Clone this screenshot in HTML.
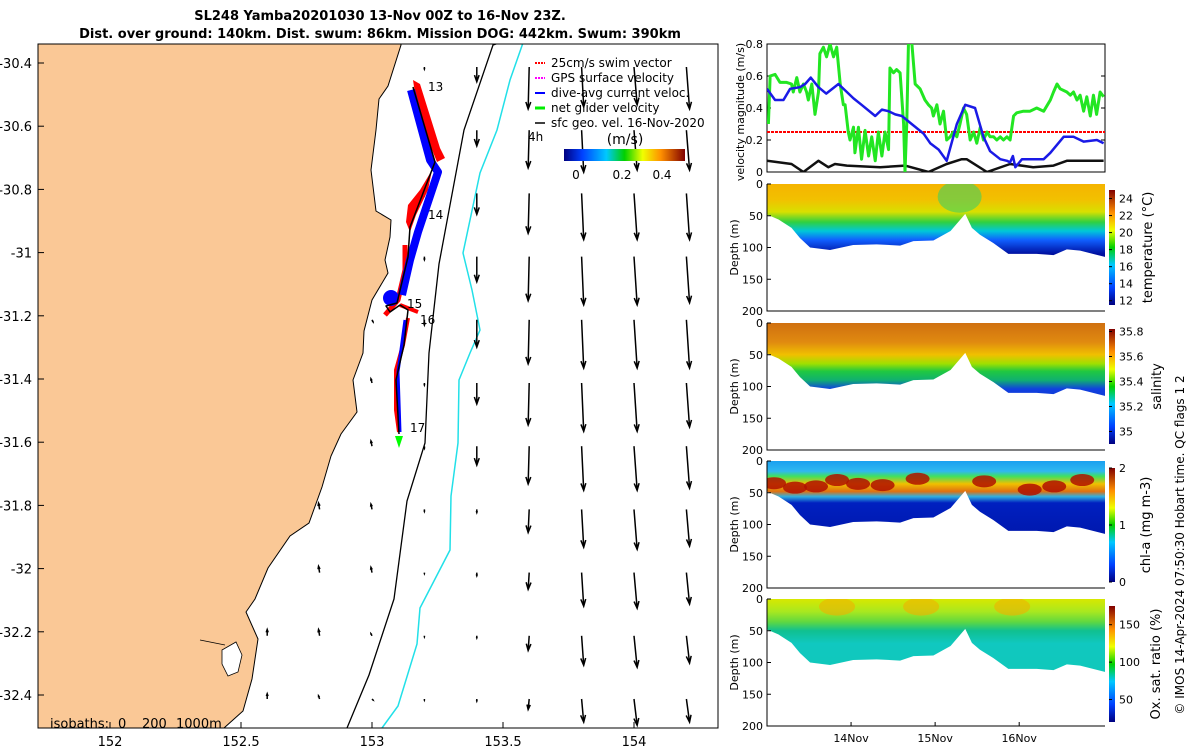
<!DOCTYPE html>
<html><head><meta charset="utf-8"><style>
body{margin:0;background:#fff;}
svg{font-family:"DejaVu Sans","Liberation Sans",sans-serif;}
</style></head><body>
<svg id="fig" width="1200" height="750" viewBox="0 0 1200 750" xmlns="http://www.w3.org/2000/svg">
<defs>
<linearGradient id="jet" x1="0" y1="0" x2="1" y2="0">
<stop offset="0" stop-color="#00007f"/><stop offset="0.15" stop-color="#0040ff"/><stop offset="0.35" stop-color="#00c8ff"/><stop offset="0.5" stop-color="#00d000"/><stop offset="0.65" stop-color="#f0ff00"/><stop offset="0.8" stop-color="#ff9000"/><stop offset="1" stop-color="#800000"/>
</linearGradient>
<linearGradient id="jetv" x1="0" y1="1" x2="0" y2="0">
<stop offset="0" stop-color="#00007f"/><stop offset="0.15" stop-color="#0040ff"/><stop offset="0.35" stop-color="#00c8ff"/><stop offset="0.5" stop-color="#00d000"/><stop offset="0.65" stop-color="#f0ff00"/><stop offset="0.8" stop-color="#ff9000"/><stop offset="1" stop-color="#800000"/>
</linearGradient>
<clipPath id="mapclip"><rect x="38" y="44" width="680" height="684"/></clipPath>
</defs>

<text x="380" y="20" text-anchor="middle" font-size="13" font-weight="bold">SL248 Yamba20201030 13-Nov 00Z to 16-Nov 23Z.</text>
<text x="380" y="38" text-anchor="middle" font-size="13" font-weight="bold">Dist. over ground: 140km. Dist. swum: 86km. Mission DOG: 442km. Swum: 390km</text>

<g id="map">
<g clip-path="url(#mapclip)">
<path fill="#fac896" stroke="#000" stroke-width="1" d="M30,40 L401,40 L401,45 L388,86 L379,99 L376,130 L371,170 L376,211 L391,220 L390,237 L385,260 L388,273 L372,300 L364,331 L363,353 L353,380 L357,412 L341,434 L331,456 L322,487 L309,523 L290,536 L268,568 L255,599 L246,612 L258,639 L252,679 L243,711 L224,728 L224,740 L30,740 Z"/>
<path fill="#fff" stroke="#000" stroke-width="0.8" d="M222,650 L236,642 L242,655 L238,672 L228,676 L222,664 Z M200,640 L225,645"/>
<path fill="none" stroke="#000" stroke-width="1.3" d="M508,40 L493,45 L464,130 L439,264 L429,353 L425,443 L407,501 L394,599 L369,675 L347,728"/>
<path fill="none" stroke="#22e0e8" stroke-width="1.5" d="M524,40 L510,80 L497,130 L480,173 L463,253 L472,290 L480,330 L470,353 L459,380 L458,443 L451,496 L450,550 L420,608 L417,644 L398,706 L382,728"/>
<g id="arrows"></g>
<g>
<polygon fill="#f00" points="413,80 420,84 440,148 445,158 437,162 426,135 416,100"/>
<polygon fill="#f00" points="432,170 428,190 416,215 410,232 406,222 408,205 420,190"/>
<polyline fill="none" stroke="#f00" stroke-width="5" stroke-linejoin="round" points="405,245 405,270 398,300 385,315"/>
<polyline fill="none" stroke="#f00" stroke-width="4" points="400,305 418,312"/>
<polyline fill="none" stroke="#f00" stroke-width="4" stroke-linejoin="round" points="408,318 403,345 396,370 396,410 399,432"/>
<polyline fill="none" stroke="#00f" stroke-width="8" stroke-linejoin="round" points="411,90 430,160 438,172 418,232 410,260 402,295"/>
<circle cx="391" cy="298" r="8" fill="#00f"/>
<polyline fill="none" stroke="#00f" stroke-width="3" points="405,320 398,372 400,432"/>
<polyline fill="none" stroke="#000" stroke-width="1.5" stroke-linejoin="round" points="413,87 435,162 410,227 408,257 397,303 386,306 390,312 400,305 408,310 404,345 398,371 396,380 399,434"/>
<polygon points="395,436 403,436 399,448" fill="#0f0"/>
</g>
<text x="428" y="91" font-size="12">13</text>
<text x="428" y="219" font-size="12">14</text>
<text x="407" y="308" font-size="12">15</text>
<text x="420" y="324" font-size="12">16</text>
<text x="410" y="432" font-size="12">17</text>
</g>
<rect x="38" y="44" width="680" height="684" fill="none" stroke="#000" stroke-width="1"/>
<g id="mapticks" font-size="13"></g>
<g font-size="13">
<text x="50" y="728">isobaths:</text><text x="118" y="728">0</text><text x="142" y="728">200</text><text x="176" y="728">1000m</text>
</g>
<g font-size="12">
<line x1="535" y1="63" x2="545" y2="63" stroke="#f00" stroke-width="2" stroke-dasharray="2,1"/><text x="551" y="67">25cm/s swim vector</text>
<line x1="535" y1="78" x2="545" y2="78" stroke="#f0f" stroke-width="2" stroke-dasharray="2,1"/><text x="551" y="82">GPS surface velocity</text>
<line x1="535" y1="93" x2="545" y2="93" stroke="#00f" stroke-width="2"/><text x="551" y="97">dive-avg current veloc.</text>
<line x1="535" y1="108" x2="545" y2="108" stroke="#0e0" stroke-width="3"/><text x="551" y="112">net glider velocity</text>
<line x1="535" y1="123" x2="545" y2="123" stroke="#000" stroke-width="1.5"/><text x="551" y="127">sfc geo. vel. 16-Nov-2020</text>
<text x="528" y="141" font-size="12">4h</text>
<text x="625" y="144" text-anchor="middle" font-size="14">(m/s)</text>
<rect x="564" y="149" width="121" height="12" fill="url(#jet)"/>
<text x="576" y="179" text-anchor="middle">0</text><text x="622" y="179" text-anchor="middle">0.2</text><text x="662" y="179" text-anchor="middle">0.4</text>
</g>
</g>

<g id="vel"></g>
<g id="sections"></g>

<text transform="translate(1184,545) rotate(-90)" text-anchor="middle" font-size="12">© IMOS 14-Apr-2024 07:50:30 Hobart time. QC flags 1  2</text>
</svg>
<script>
// ---------- map quiver data ----------
const arrowLons=[152.6,152.8,153.0,153.2,153.4,153.6,153.8,154.0,154.2];
const arrowLats=[-30.40,-30.60,-30.80,-31.00,-31.20,-31.40,-31.60,-31.80,-32.00,-32.20,-32.40];
const arrowV=[
[null,null,null,0.02,0.14,0.40,0.38,0.36,0.40],
[null,null,null,0.02,0.15,0.36,0.40,0.38,0.38],
[null,null,null,0.02,0.20,0.38,0.44,0.44,0.44],
[null,null,null,0.03,0.24,0.42,0.46,0.46,0.44],
[null,null,0.02,0.05,0.26,0.42,0.46,0.46,0.46],
[null,null,-0.04,0.02,0.20,0.40,0.46,0.46,0.42],
[null,null,-0.05,0.02,0.18,0.36,0.42,0.42,0.40],
[null,-0.06,-0.05,0.02,0.03,0.22,0.36,0.38,0.35],
[null,-0.06,-0.05,0.01,0.03,0.16,0.32,0.34,0.30],
[-0.06,-0.06,-0.02,0.01,0.02,0.14,0.28,0.30,0.26],
[-0.05,-0.03,0.01,0.01,0.02,0.10,0.22,0.25,0.22]];
const arrowU=[0,0.01,0.01,0,0,-0.01,0.02,0.03,0.03];
const lonTicks=[152,152.5,153,153.5,154];
const latTicks=[-30.4,-30.6,-30.8,-31,-31.2,-31.4,-31.6,-31.8,-32,-32.2,-32.4];
// ---------- velocity panel data (hours since 13-Nov 00Z, m/s) ----------
const netHours=[0.4,0.9,2.3,3.7,5.6,7,7.5,8.5,9.4,10.4,11.3,11.8,12.8,13.7,14.7,15.1,16.1,17,18,19,19.9,20.9,21.8,22.3,23.2,23.7,24.7,25.1,26.1,27,28,29,29.9,30.9,31.8,32.8,33.7,34.7,35.1,36.1,37,38,39,39.4,39.9,40.4,41.3,42.3,43.7,45.1,46.1,47,47.5,48.5,49.4,50.4,51.3,52.3,53.2,54.2,55.1,56.1,57,58,59,59.9,60.9,61.8,62.8,63.7,64.7,65.6,66.6,67.5,68.5,69.4,70.4,71.3,73.2,75.1,77,79,80.9,81.8,82.8,83.7,85.6,86.6,87.5,88.5,89.4,90.4,91.3,92.3,93.2,94.1,95.1,96.1];
const netSpeed=[0.3,0.6,0.61,0.56,0.56,0.55,0.5,0.59,0.5,0.55,0.5,0.45,0.55,0.36,0.5,0.74,0.78,0.72,0.8,0.72,0.78,0.55,0.42,0.42,0.25,0.2,0.28,0.12,0.28,0.08,0.26,0.1,0.22,0.07,0.25,0.1,0.25,0.14,0.65,0.62,0.64,0.62,0.3,0.0,0.3,0.9,1.0,0.55,0.52,0.45,0.42,0.4,0.35,0.42,0.3,0.38,0.2,0.22,0.25,0.22,0.3,0.4,0.36,0.2,0.25,0.18,0.28,0.2,0.25,0.22,0.22,0.2,0.22,0.2,0.22,0.2,0.35,0.37,0.38,0.38,0.4,0.38,0.45,0.5,0.55,0.52,0.5,0.48,0.5,0.45,0.48,0.38,0.47,0.35,0.48,0.36,0.5,0.47];
const curHours=[0,2.3,4.7,6.6,9.4,10.9,12.5,14.7,16.9,20.4,24.7,27,30.9,32.8,34.7,36.6,38.5,41.3,44.7,46.6,49,51.3,54.2,56.6,59.4,61.8,63.7,66.6,68.5,69.4,70.2,70.9,72.8,79,80.9,84.7,87.5,90.4,94.2,96.1];
const curSpeed=[0.52,0.45,0.45,0.52,0.53,0.55,0.59,0.53,0.49,0.55,0.46,0.42,0.35,0.39,0.38,0.36,0.35,0.3,0.24,0.18,0.14,0.07,0.3,0.42,0.4,0.22,0.13,0.08,0.07,0.06,0.1,0.03,0.08,0.08,0.12,0.22,0.22,0.19,0.2,0.18];
const geoHours=[0,7,10.4,14.7,17.5,19.4,22.8,32.3,39.4,46.1,51.3,55.6,57,62.8,69.4,76,81.8,85.6,96.1];
const geoSpeed=[0.07,0.05,0.0,0.07,0.03,0.05,0.04,0.03,0.04,0.0,0.05,0.08,0.08,0.0,0.05,0.03,0.04,0.07,0.07];
const swimSpeed=[0.25];
const velTicks=[0,0.2,0.4,0.6,0.8];
// ---------- section panels data ----------
const botHours=[0,3.3,7,9.4,12.3,18,24.6,31.3,38,41.8,47.5,52.4,56.6,58.5,60.8,64.6,68.9,77,81.8,85.6,89.4,96.6];
const botDepth=[48,56,69,85,100,104,96,95,97,90,89,74,47,69,80,93,110,110,112,103,105,115];
const depthTicks=[0,50,100,150,200];
const dayTicks=["14Nov","15Nov","16Nov"];
const dayTickHours=[24,48,72];
const tempTicks=[12,14,16,18,20,22,24];
const salTicks=[35,35.2,35.4,35.6,35.8];
const chlTicks=[0,1,2];
const oxTicks=[50,100,150];
const chlPatchHours=[2,8,14,20,26,33,43,62,75,82,90];
const chlPatchDepth=[35,42,40,30,36,38,28,32,45,40,30];

const NS="http://www.w3.org/2000/svg";
function mk(tag,attrs,parent){const e=document.createElementNS(NS,tag);for(const k in attrs)e.setAttribute(k,attrs[k]);parent.appendChild(e);return e;}
const lonX=lon=>372+(lon-153)*262;
const latY=lat=>63+(-30.4-lat)*316;
const AS=105;
const ag=document.getElementById('arrows');
arrowLats.forEach((lat,r)=>{arrowLons.forEach((lon,c)=>{
  const v=arrowV[r][c]; if(v===null)return;
  const x0=lonX(lon),y0=latY(lat)+4;
  const x1=x0+arrowU[c]*AS*(v<0?-1:1), y1=y0+v*AS;
  const L=Math.hypot(x1-x0,y1-y0)||1, ux=(x1-x0)/L, uy=(y1-y0)/L, h=Math.min(7,L*0.45);
  const a=mk('path',{d:`M${x0},${y0}L${x1},${y1}M${x1-ux*h-uy*h*0.35},${y1-uy*h+ux*h*0.35}L${x1},${y1}L${x1-ux*h+uy*h*0.35},${y1-uy*h-ux*h*0.35}`,stroke:'#000','stroke-width':1.5,fill:'none'},ag);
  
  
});});
const mt=document.getElementById('mapticks');
lonTicks.forEach(l=>{const x=lonX(l);mk('line',{x1:x,y1:728,x2:x,y2:722,stroke:'#000'},mt);
  const t=mk('text',{x:x,y:746,'text-anchor':'middle'},mt);t.textContent=String(l);
  });
latTicks.forEach(l=>{const y=latY(l);mk('line',{x1:38,y1:y,x2:44,y2:y,stroke:'#000'},mt);
  const t=mk('text',{x:32,y:y+5,'text-anchor':'end'},mt);t.textContent=String(l);
  });

const X0=767,X1=1105;
const tX=h=>X0+h*(X1-X0)/96.5;
const vel=document.getElementById('vel');
const VY0=172,VY1=44;
const vY=v=>VY0-Math.min(v,0.82)/0.8*(VY0-VY1);
mk('rect',{x:X0,y:VY1,width:X1-X0,height:VY0-VY1,fill:'#fff',stroke:'#000'},vel);
velTicks.forEach(t=>{const y=vY(t);mk('line',{x1:X0,y1:y,x2:X0+4,y2:y,stroke:'#000'},vel);mk('line',{x1:X1,y1:y,x2:X1-4,y2:y,stroke:'#000'},vel);
 const tx=mk('text',{x:X0-4,y:y+4,'text-anchor':'end','font-size':11},vel);tx.textContent=String(t);
 });
const vl=mk('text',{transform:`translate(744,112) rotate(-90)`,'text-anchor':'middle','font-size':11},vel);vl.textContent='velocity magnitude (m/s)';

const vclip=mk('clipPath',{id:'vclip'},vel);mk('rect',{x:X0,y:VY1,width:X1-X0,height:VY0-VY1},vclip);
const vg=mk('g',{'clip-path':'url(#vclip)'},vel);
const sw=mk('line',{x1:X0,x2:X1,y1:vY(swimSpeed[0]),y2:vY(swimSpeed[0]),stroke:'#f00','stroke-width':2,'stroke-dasharray':'3,1'},vg);

function series(hs,vs,color,w,name){const p=mk('polyline',{points:hs.map((h,i)=>tX(h)+','+vY(vs[i])).join(' '),fill:'none',stroke:color,'stroke-width':w,'stroke-linejoin':'round'},vg);
 }
series(geoHours,geoSpeed,'#111',2.5,'geostrophic-speed-line');
series(netHours,netSpeed,'#22e622',3,'net-glider-speed-line');
series(curHours,curSpeed,'#1a1ae6',2.5,'current-speed-line');

const sec=document.getElementById('sections');
const panels=[
 {top:184,name:'temperature',label:'temperature (°C)',lx:1152,ticks:tempTicks,min:11.5,max:25,cb:[190,305],
  stops:[[0,'#f5b400'],[0.12,'#f2c000'],[0.22,'#d8e000'],[0.3,'#30d040'],[0.37,'#00c8d8'],[0.44,'#1060ff'],[0.55,'#0010a0'],[1,'#000080']]},
 {top:323,name:'salinity',label:'salinity',lx:1161,ticks:salTicks,min:34.9,max:35.82,cb:[329,444],
  stops:[[0,'#d07010'],[0.15,'#e08a10'],[0.25,'#f0c000'],[0.32,'#a0e000'],[0.38,'#20c840'],[0.45,'#10b070'],[0.52,'#1040e0'],[1,'#102090']]},
 {top:461,name:'chlorophyll',label:'chl-a (mg m-3)',lx:1150,ticks:chlTicks,min:0,max:2,cb:[468,582],
  stops:[[0,'#1aa0f0'],[0.08,'#30b8f0'],[0.12,'#40e060'],[0.18,'#f0c000'],[0.24,'#e07010'],[0.28,'#30b0e0'],[0.33,'#0020c0'],[1,'#000a90']]},
 {top:599,name:'oxygen',label:'Ox. sat. ratio (%)',lx:1160,ticks:oxTicks,min:20,max:175,cb:[606,722],
  stops:[[0,'#d8e800'],[0.1,'#a8e820'],[0.18,'#60d840'],[0.25,'#10c090'],[0.35,'#10c8c0'],[1,'#10c8b0']]}];
panels.forEach((P,pi)=>{
 const g=mk('g',{},sec);
 const H=127, dY=d=>P.top+d/200*H;
 const gr=mk('linearGradient',{id:'g'+pi,x1:0,y1:P.top,x2:0,y2:P.top+H,gradientUnits:'userSpaceOnUse'},g);
 P.stops.forEach(s=>mk('stop',{offset:s[0],'stop-color':s[1]},gr));
 const cp=mk('clipPath',{id:'c'+pi},g);
 const pts=[tX(botHours[0])+','+dY(0)].concat(botHours.map((h,i)=>tX(h)+','+dY(botDepth[i]))).concat([tX(botHours[botHours.length-1])+','+dY(0)]);
 mk('polygon',{points:pts.join(' ')},cp);
 const fg=mk('g',{'clip-path':'url(#c'+pi+')'},g);
 mk('rect',{x:X0,y:P.top-2,width:X1-X0,height:H,fill:'url(#g'+pi+')'},fg);
 if(P.name==='chlorophyll'){chlPatchHours.forEach((h,i)=>{const e=mk('ellipse',{cx:tX(h),cy:dY(chlPatchDepth[i]),rx:12,ry:6,fill:'#b01000',opacity:0.85},fg);
   });}
 if(P.name==='oxygen'){[20,44,70].forEach(h=>mk('ellipse',{cx:tX(h),cy:dY(12),rx:18,ry:9,fill:'#f0b000',opacity:0.6},fg));}
 if(P.name==='temperature'){mk('ellipse',{cx:tX(55),cy:dY(20),rx:22,ry:16,fill:'#40d060',opacity:0.6},fg);}
 mk('path',{d:`M${X0},${P.top}V${P.top+H}H${X1}`,fill:'none',stroke:'#000'},g);
 depthTicks.forEach(t=>{const y=dY(t);mk('line',{x1:X0,y1:y,x2:X0+4,y2:y,stroke:'#000'},g);
  const tx=mk('text',{x:X0-4,y:y+4,'text-anchor':'end','font-size':11},g);tx.textContent=String(t);
  });
 const yl=mk('text',{transform:`translate(738,${P.top+H/2}) rotate(-90)`,'text-anchor':'middle','font-size':11},g);yl.textContent='Depth (m)';
 
 const cb=mk('rect',{x:1109,y:P.cb[0],width:6,height:P.cb[1]-P.cb[0],fill:'url(#jetv)'},g);
 
 P.ticks.forEach(t=>{const y=P.cb[1]-(t-P.min)/(P.max-P.min)*(P.cb[1]-P.cb[0]);
  mk('line',{x1:1109,y1:y,x2:1112,y2:y,stroke:'#000'},g);
  const tx=mk('text',{x:1119,y:y+4,'font-size':11},g);tx.textContent=String(t);
  });
 const cl=mk('text',{transform:`translate(${P.lx},${(P.cb[0]+P.cb[1])/2}) rotate(-90)`,'text-anchor':'middle','font-size':13},g);cl.textContent=P.label;
 
 if(pi===3){dayTicks.forEach((d,i)=>{const x=tX(dayTickHours[i]);mk('line',{x1:x,y1:P.top+H,x2:x,y2:P.top+H-4,stroke:'#000'},g);
  const tx=mk('text',{x:x,y:742,'text-anchor':'middle','font-size':11},g);tx.textContent=d;
  });}
});
</script>
</body></html>
